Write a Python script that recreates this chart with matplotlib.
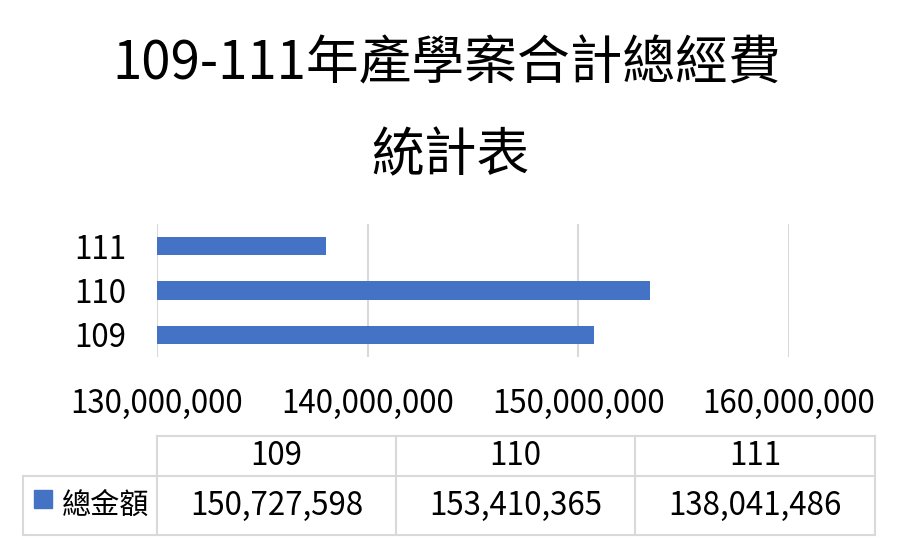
import matplotlib
matplotlib.use("Agg")
import matplotlib.pyplot as plt
from matplotlib.patches import Rectangle

plt.rcParams['font.family'] = ['Noto Sans CJK TC', 'DejaVu Sans']

# data
years = ["109", "110", "111"]
totals = [150727598, 153410365, 138041486]
series_name = "總金額"
title_lines = ["109-111年產學案合計總經費", "統計表"]
x_ticks = [130000000, 140000000, 150000000, 160000000]

BAR = "#4472C4"
GRID = "#d9d9d9"
W, H = 897, 556

fig = plt.figure(figsize=(W / 100, H / 100), dpi=100)

# chart area in pixel terms
left, right, top, bottom = 157, 789, 224, 357
ax = fig.add_axes([left / W, 1 - bottom / H, (right - left) / W, (bottom - top) / H])

ypos = list(range(len(years)))
ax.barh(ypos, totals, height=0.41, color=BAR, zorder=3)
ax.set_xlim(x_ticks[0], x_ticks[-1])
ax.set_ylim(-0.5, len(years) - 0.5)
ax.set_yticks(ypos)
ax.set_yticklabels(years)
ax.set_xticks(x_ticks)
ax.set_xticklabels([f"{v:,}" for v in x_ticks])
ax.tick_params(axis="both", length=0, labelsize=22.5, colors="black")
ax.tick_params(axis="x", pad=22)
ax.tick_params(axis="y", pad=22)
ax.grid(axis="x", color=GRID, linewidth=1.5, zorder=0)
for s in ax.spines.values():
    s.set_visible(False)

# titles
fig.text(447 / W, 1 - 64 / H, title_lines[0], ha="center", va="center", fontsize=38)
fig.text(450 / W, 1 - 156 / H, title_lines[1], ha="center", va="center", fontsize=38)

# data table underneath, drawn on an overlay in pixel coordinates
tab = fig.add_axes([0, 0, 1, 1], zorder=-1)
tab.set_xlim(0, W)
tab.set_ylim(H, 0)
tab.axis("off")

col_x = [157, 396, 635, 875]
row_top, row_mid, row_bot = 436, 476, 535
lab_left = 23
lw = 1.5
tab.plot([col_x[0], col_x[-1]], [row_top, row_top], color=GRID, lw=lw)
tab.plot([lab_left, col_x[-1]], [row_mid, row_mid], color=GRID, lw=lw)
tab.plot([lab_left, col_x[-1]], [row_bot, row_bot], color=GRID, lw=lw)
tab.plot([lab_left, lab_left], [row_mid, row_bot], color=GRID, lw=lw)
for cx in col_x:
    tab.plot([cx, cx], [row_top, row_bot], color=GRID, lw=lw)

for i, (yr, val) in enumerate(zip(years, totals)):
    cx = (col_x[i] + col_x[i + 1]) / 2
    tab.text(cx, (row_top + row_mid) / 2, yr, ha="center", va="center", fontsize=22.5)
    tab.text(cx, (row_mid + row_bot) / 2, f"{val:,}", ha="center", va="center", fontsize=22.5)

tab.add_patch(Rectangle((34, 490), 18, 18, color=BAR))
tab.text(62, (row_mid + row_bot) / 2, series_name, ha="left", va="center", fontsize=21)

fig.savefig("out.png", dpi=100, facecolor="white")
